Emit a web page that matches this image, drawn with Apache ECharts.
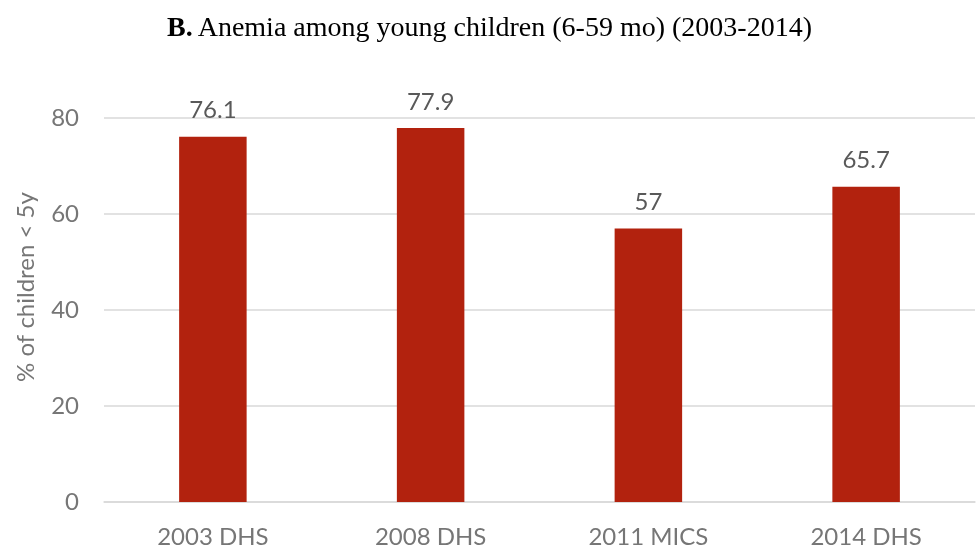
<!DOCTYPE html>
<html>
<head>
<meta charset="utf-8">
<script src="https://cdn.jsdelivr.net/npm/echarts@6/dist/echarts.min.js"></script>
<style>
  html, body { margin: 0; padding: 0; background: #ffffff; }
  #chart { width: 979px; height: 554px; }
</style>
</head>
<body>
<div id="chart"></div>
<script>
// Survey rounds and anemia prevalence among children 6-59 months
const surveys = ['2003 DHS', '2008 DHS', '2011 MICS', '2014 DHS'];
const anemiaPct = [76.1, 77.9, 57, 65.7];
const yTicks = [0, 20, 40, 60, 80];

const sans = 'Lato, "Open Sans", sans-serif';
const chart = echarts.init(document.getElementById('chart'), null, { renderer: 'canvas' });

chart.setOption({
  animation: false,
  backgroundColor: '#ffffff',
  title: {
    text: '{b|B.} {t|Anemia among young children (6-59 mo) (2003-2014)}',
    left: 'center',
    top: 10,
    textStyle: {
      fontWeight: 'normal',
      rich: {
        b: { fontFamily: '"Liberation Serif", serif', fontWeight: 'bold', fontSize: 28, color: '#000000' },
        t: { fontFamily: '"Liberation Serif", serif', fontWeight: 'normal', fontSize: 28, color: '#000000' }
      }
    }
  },
  grid: { left: 104, right: 4, top: 118, bottom: 52, containLabel: false },
  xAxis: {
    type: 'category',
    data: surveys,
    axisLine: { show: true, lineStyle: { color: '#d9d9d9', width: 1.5 } },
    axisTick: { show: false },
    axisLabel: { color: '#767676', fontSize: 24, fontFamily: sans, margin: 23 }
  },
  yAxis: {
    type: 'value',
    min: yTicks[0],
    max: yTicks[yTicks.length - 1],
    interval: 20,
    name: '% of children < 5y',
    nameLocation: 'middle',
    nameGap: 66,
    nameTextStyle: { color: '#767676', fontSize: 24, fontFamily: sans, padding: [0, 0, 0, 46] },
    axisLine: { show: false },
    axisTick: { show: false },
    axisLabel: { color: '#767676', fontSize: 24, fontFamily: sans, margin: 25 },
    splitLine: { lineStyle: { color: '#d9d9d9', width: 1.5 } }
  },
  series: [{
    type: 'bar',
    data: anemiaPct,
    barWidth: '31%',
    itemStyle: { color: '#B2220E' },
    label: {
      show: true,
      position: 'top',
      distance: 14,
      color: '#595959',
      fontSize: 24,
      fontFamily: sans
    }
  }]
});
</script>
</body>
</html>
